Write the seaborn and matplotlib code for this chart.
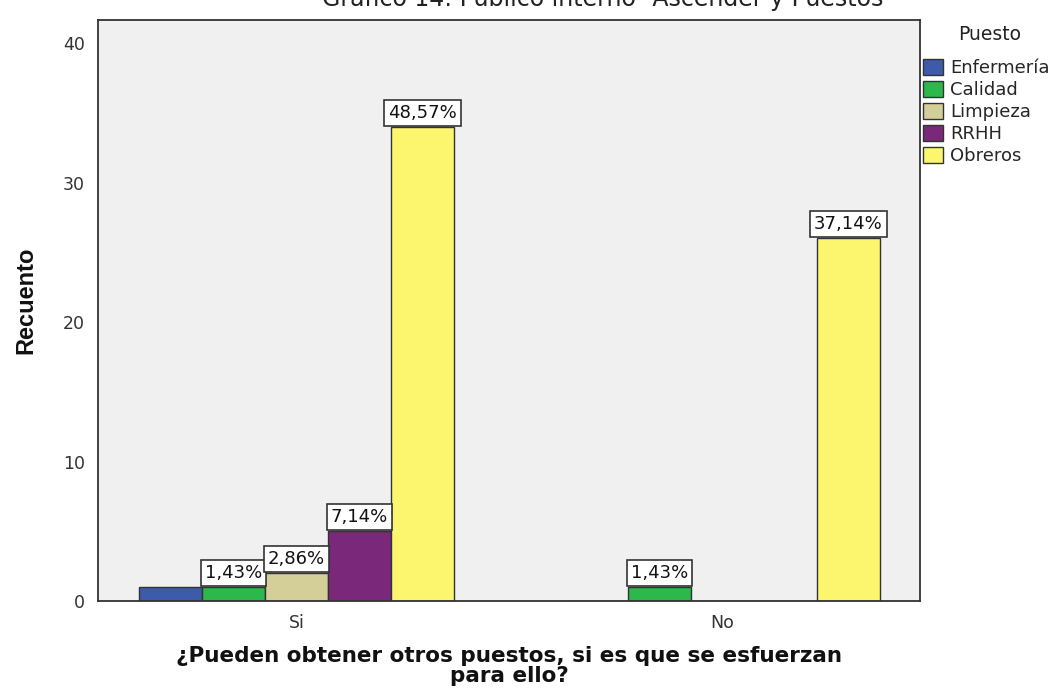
import matplotlib
matplotlib.use("Agg")
import matplotlib.pyplot as plt
from matplotlib.patches import Patch
import seaborn as sns
import pandas as pd

# datos
respuestas = ["Si", "No"]
puestos = ["Enfermería", "Calidad", "Limpieza", "RRHH", "Obreros"]
si_counts = [1, 1, 2, 5, 34]
no_counts = [0, 1, 0, 0, 26]
etiquetas_si = [None, "1,43%", "2,86%", "7,14%", "48,57%"]
etiquetas_no = [None, "1,43%", None, None, "37,14%"]
colores = ["#3D5AAB", "#2DB84B", "#D4CF99", "#7A287A", "#FBF66E"]
y_ticks = [0, 10, 20, 30, 40]

df = pd.DataFrame({
    "respuesta": ["Si"] * len(puestos) + ["No"] * len(puestos),
    "puesto": puestos + puestos,
    "n": si_counts + no_counts,
})

sns.set_style("white")
plt.rcParams["font.family"] = ["DejaVu Sans"]

fig = plt.figure(figsize=(10.55, 6.97), dpi=100)
ax = fig.add_axes([0.0929, 0.1377, 0.7791, 0.8336])
ax.set_facecolor("#F0F0F0")

sns.barplot(data=df, x="respuesta", y="n", hue="puesto", order=respuestas,
            hue_order=puestos, palette=colores, saturation=1, width=0.74,
            edgecolor="#333333", linewidth=1, errorbar=None, legend=False, ax=ax)

etiquetas = [etiquetas_si, etiquetas_no]
for i, cont in enumerate(ax.containers):
    for j, bar in enumerate(cont):
        txt = etiquetas[j][i]
        if txt is None:
            continue
        ax.annotate(txt, (bar.get_x() + bar.get_width() / 2, bar.get_height()),
                    xytext=(0, 3.5), textcoords="offset points",
                    ha="center", va="bottom", fontsize=13, color="#111111",
                    bbox=dict(boxstyle="square,pad=0.22", fc="white",
                              ec="#333333", lw=1.2))

ax.set_xlim(-0.466, 1.464)
ax.set_ylim(0, 41.65)
ax.set_yticks(y_ticks)
for s in ax.spines.values():
    s.set_visible(True)
    s.set_color("#333333")
    s.set_linewidth(1.3)
ax.tick_params(axis="both", direction="out", length=6, width=1.2,
               color="#333333", labelsize=12.5, labelcolor="#333333")

ax.set_xlabel("¿Pueden obtener otros puestos, si es que se esfuerzan\npara ello?",
              fontsize=15.5, fontweight="bold", labelpad=10, linespacing=1.0,
              color="#111111")
ax.set_ylabel("Recuento", fontsize=17, fontweight="bold", color="#111111",
              family=["Liberation Sans Narrow", "Liberation Sans"])
ax.yaxis.set_label_coords(-0.074, 0.518)

fig.text(0.571, 0.9915, "Gráfico 14: Público interno- Ascender y Puestos",
         ha="center", va="baseline", fontsize=17, color="#222222")

fig.text(0.9385, 1 - 35 / 697, "Puesto", ha="center", va="center",
         fontsize=13.5, color="#222222")
handles = [Patch(facecolor=c, edgecolor="#333333", linewidth=1) for c in colores]
fig.legend(handles, puestos, loc="upper left",
           bbox_to_anchor=(923 / 1055, 1 - 59 / 697), frameon=False, fontsize=13,
           handlelength=1.1, handleheight=1.0, handletextpad=0.4,
           labelspacing=0.2, borderaxespad=0, borderpad=0)

fig.savefig("out.png", dpi=100)
